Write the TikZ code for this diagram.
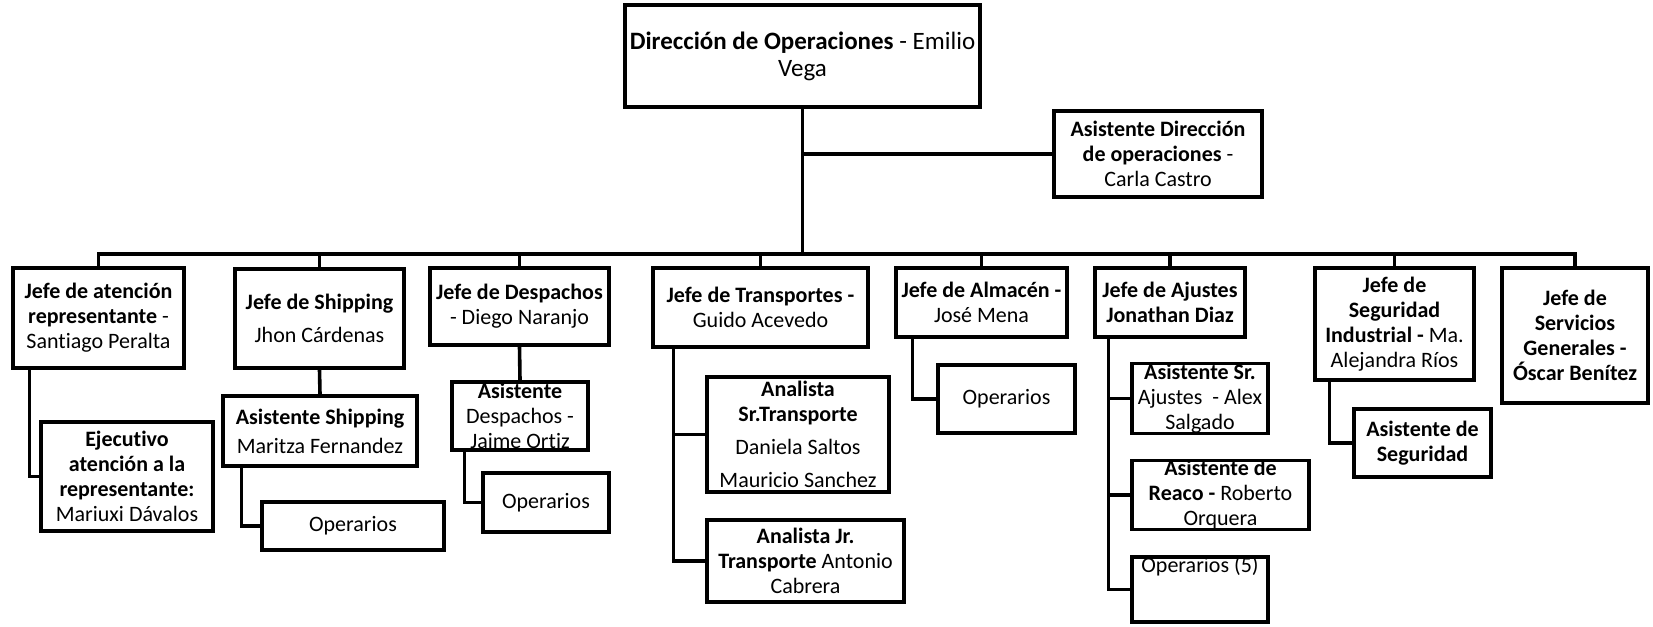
\documentclass[tikz,border=0pt]{standalone}
\usepackage{fontspec}
\setmainfont{Carlito}[Ligatures=NoCommon]

\tikzset{
  unit/.style={draw, line width=1.6pt, inner sep=0pt, align=center,
    font=\fontsize{11}{12.5}\selectfont},
  link/.style={line width=1.8pt},
}

\begin{document}
\begin{tikzpicture}[x=0.5pt, y=-0.5pt]
\useasboundingbox (0,0) rectangle (1653,626);

% top
\node[unit, minimum width=177.5pt, minimum height=51pt, font=\fontsize{12.5}{13.5}\selectfont] (dir) at (802.5,56)
  {\textbf{Dirección de Operaciones} - Emilio\\Vega};
\node[unit, minimum width=104pt, minimum height=43pt] (asis) at (1158,154)
  {\textbf{Asistente Dirección}\\\textbf{de operaciones} -\\Carla Castro};

% jefes
\node[unit, minimum width=85.5pt, minimum height=50pt] (aten) at (98.5,318)
  {\textbf{Jefe de atención}\\\textbf{representante} -\\Santiago Peralta};
\node[unit, minimum width=84.5pt, minimum height=49.5pt] (ship) at (319.5,318.5)
  {\textbf{Jefe de Shipping}\\[4pt]Jhon Cárdenas};
\node[unit, minimum width=89.5pt, minimum height=38.5pt] (desp) at (519.5,306.5)
  {\textbf{Jefe de Despachos}\\- Diego Naranjo};
\node[unit, minimum width=107.5pt, minimum height=39.5pt] (trans) at (760.5,307.5)
  {\textbf{Jefe de Transportes -}\\Guido Acevedo};
\node[unit, minimum width=85.5pt, minimum height=34.5pt] (alm) at (981.5,302.5)
  {\textbf{Jefe de Almacén -}\\José Mena};
\node[unit, minimum width=75pt, minimum height=34.5pt] (ajus) at (1170,302.5)
  {\textbf{Jefe de Ajustes}\\\textbf{Jonathan Diaz}};
\node[unit, minimum width=79.5pt, minimum height=56pt] (segu) at (1394.5,324)
  {\textbf{Jefe de}\\\textbf{Seguridad}\\\textbf{Industrial -} Ma.\\Alejandra Ríos};
\node[unit, minimum width=73pt, minimum height=67.5pt] (serv) at (1575,335.5)
  {\textbf{Jefe de}\\\textbf{Servicios}\\\textbf{Generales -}\\\textbf{Óscar Benítez}};

% tercer nivel
\node[unit, minimum width=86pt, minimum height=54.5pt] (ejec) at (127,476.5)
  {\textbf{Ejecutivo}\\\textbf{atención a la}\\\textbf{representante:}\\Mariuxi Dávalos};
\node[unit, minimum width=97pt, minimum height=35pt] (asship) at (320,431)
  {\textbf{Asistente Shipping}\\[2pt]Maritza Fernandez};
\node[unit, minimum width=91pt, minimum height=24pt] (opship) at (353,526) {Operarios};
\node[unit, minimum width=68pt, minimum height=34pt] (asdesp) at (520,416)
  {\textbf{Asistente}\\Despachos -\\Jaime Ortiz};
\node[unit, minimum width=63pt, minimum height=29.5pt] (opdesp) at (546,502.5) {Operarios};
\node[unit, minimum width=91pt, minimum height=57.5pt] (ansr) at (798,434.5)
  {\textbf{Analista}\\\textbf{Sr.Transporte}\\[4pt]Daniela Saltos\\[4pt]Mauricio Sanchez};
\node[unit, minimum width=98.5pt, minimum height=41pt] (anjr) at (805.5,561)
  {\textbf{Analista Jr.}\\\textbf{Transporte} Antonio\\Cabrera};
\node[unit, minimum width=68.5pt, minimum height=34pt] (opalm) at (1006.5,399) {Operarios};
\node[unit, minimum width=68pt, minimum height=33.5pt] (asaj) at (1200,398.5)
  {\textbf{Asistente Sr.}\\Ajustes~ - Alex\\Salgado};
\node[unit, minimum width=88.5pt, minimum height=34pt] (reaco) at (1220.5,495)
  {\textbf{Asistente de}\\\textbf{Reaco -} Roberto\\Orquera};
\node[unit, minimum width=68pt, minimum height=32.5pt, text height=7.5pt, text depth=25pt] (op5) at (1200,589.5)
  {Operarios (5)};
\node[unit, minimum width=68.5pt, minimum height=34pt] (assegu) at (1422.5,443)
  {\textbf{Asistente de}\\\textbf{Seguridad}};

% lineas
\coordinate (bus) at (803,254);
\draw[link] (dir.south) -- (dir.south |- bus);
\draw[link] (dir.south |- asis.west) -- (asis.west);
\draw[link] (aten.north) |- (bus) -| (serv.north);
\foreach \n in {ship,desp,trans,alm,ajus,segu}
  \draw[link] (\n.north) -- (\n.north |- bus);

\draw[link] ([xshift=9pt]aten.south west) |- (ejec.west);
\draw[link] (ship.south) -- (asship.north);
\draw[link] ([xshift=10pt]asship.south west) |- (opship.west);
\draw[link] (desp.south) -- (asdesp.north);
\draw[link] ([xshift=7pt]asdesp.south west) |- (opdesp.west);

\coordinate (tr) at ([xshift=11pt]trans.south west);
\draw[link] (tr) |- (anjr.west);
\draw[link] (tr |- ansr.west) -- (ansr.west);

\draw[link] ([xshift=9pt]alm.south west) |- (opalm.west);

\coordinate (aj) at ([xshift=7.5pt]ajus.south west);
\draw[link] (aj) |- (op5.west);
\foreach \c in {asaj,reaco}
  \draw[link] (aj |- \c.west) -- (\c.west);

\draw[link] ([xshift=8pt]segu.south west) |- (assegu.west);
\end{tikzpicture}
\end{document}
